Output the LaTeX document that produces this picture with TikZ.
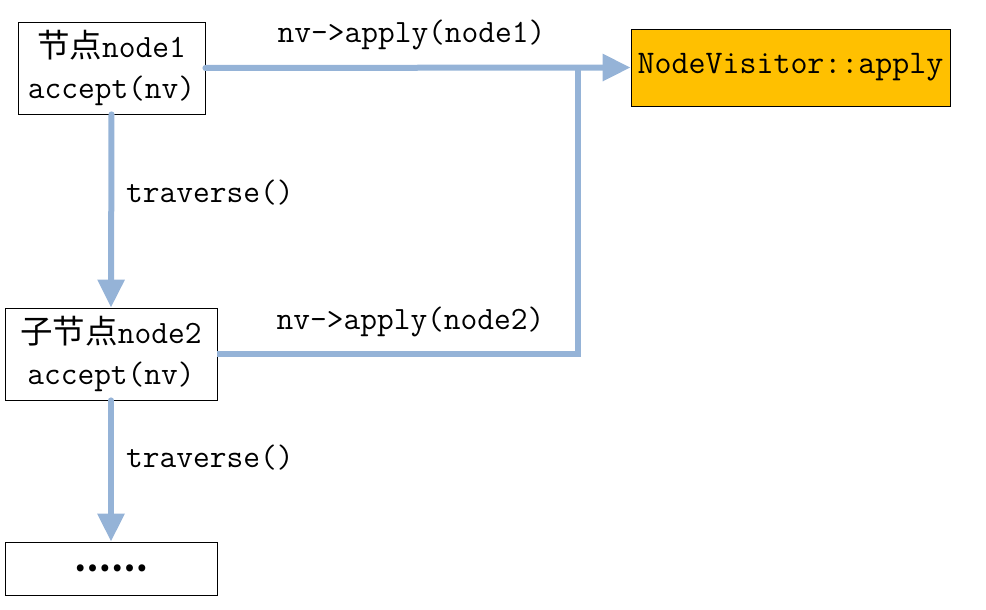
\documentclass[tikz,border=0pt]{standalone}
\usepackage{fontspec}
\newfontfamily\cjk{Noto Sans CJK SC}
\usetikzlibrary{arrows.meta}
\definecolor{arr}{HTML}{95B3D7}
\definecolor{orng}{HTML}{FFC000}
\begin{document}
\begin{tikzpicture}[x=1pt,y=-1pt,
  txt/.style={font=\ttfamily\fontsize{32.5}{41}\selectfont},
  box/.style={draw=black,line width=0.8pt,fill=white,inner sep=0pt,align=center,txt},
  conn/.style={draw=arr,line width=6pt,line cap=round},
  arrconn/.style={conn,-{Triangle[width=26pt,length=28pt]}},
  lbl/.style={txt,inner sep=0pt}]
\useasboundingbox (0,0) rectangle (986,610);
\node[box,minimum width=187pt,minimum height=92pt] (n1) at (111.5,68) {{\cjk 节点}node1\\accept(nv)};
\node[box,fill=orng,minimum width=319pt,minimum height=77pt,font=\ttfamily\fontsize{33}{41}\selectfont] (nv) at (790.5,67.5) {NodeVisitor::apply};
\node[box,minimum width=212pt,minimum height=92pt] (n2) at (111,354) {{\cjk 子节点}node2\\accept(nv)};
\node[box,minimum width=212pt,minimum height=53pt] (n3) at (111,568.5) {\cjk\bfseries ……};
\coordinate (j) at (578,68);
\draw[arrconn] (n1.east) -- (nv.west);
\draw[conn,line cap=butt] (n2.east) -| (j);
\draw[arrconn] (n1.south) -- (n2.north);
\draw[arrconn] (n2.south) -- (n3.north);
\node[lbl] (l1) at (411.5,35) {nv->apply(node1)};
\node[lbl] (l2) at (410.5,322) {nv->apply(node2)};
\node[lbl,anchor=west] (l3) at (126,193) {traverse()};
\node[lbl,anchor=west] (l4) at (126,458) {traverse()};
\end{tikzpicture}
\end{document}
